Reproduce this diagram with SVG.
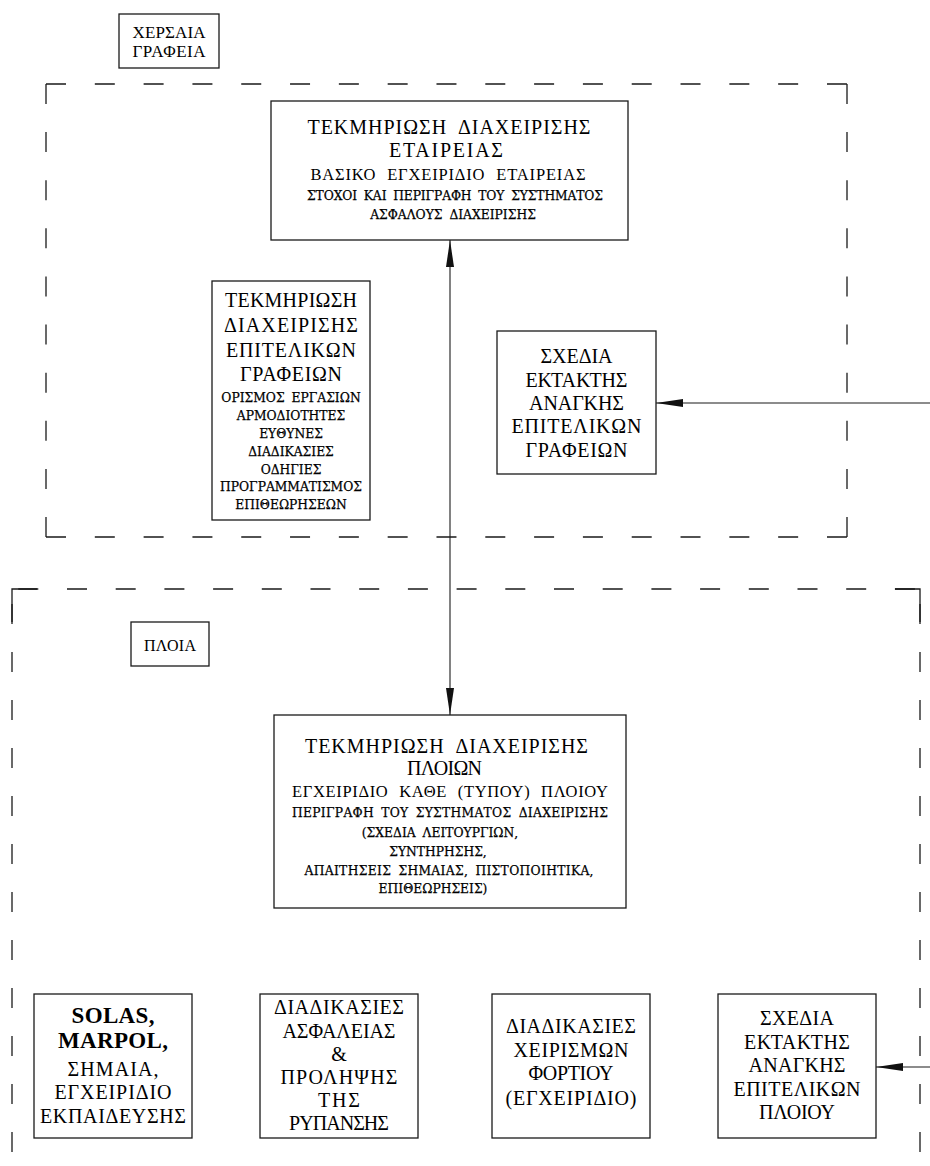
<svg xmlns="http://www.w3.org/2000/svg" width="930" height="1166" viewBox="0 0 930 1166">
  <style>
    .box { fill: #fff; stroke: #1a1a1a; stroke-width: 1.3; }
    .dash { fill: none; stroke: #1a1a1a; stroke-width: 1.3; }
    .conn { fill: none; stroke: #1a1a1a; stroke-width: 1.1; }
    .t { font-family: "Liberation Serif", "Times New Roman", serif; fill: #000; text-anchor: middle; }
    .lg { font-size: 20px; }
    .md { font-size: 16.5px; }
    .sm { font-family: "DejaVu Serif", "Liberation Serif", serif; font-size: 12.3px; stroke: #000; stroke-width: 0.25; }
    .lbl { font-size: 17px; }
    .b { font-weight: bold; font-size: 23px; }
    .ws { word-spacing: 6px; }
    .ws2 { word-spacing: 3px; }
    .st { text-anchor: start; }
  </style>
  <defs>
    <marker id="ah" markerUnits="userSpaceOnUse" markerWidth="27" markerHeight="8" viewBox="0 0 27 8" refX="27" refY="4" orient="auto-start-reverse">
      <path d="M0,0 L27,4 L0,8 Z" fill="#111"/>
    </marker>
  </defs>

  <rect width="930" height="1166" fill="#fff"/>

  <!-- shore offices boundary -->
  <g id="zone-shore">
    <line class="dash" x1="46" y1="84" x2="847" y2="84" stroke-dasharray="20 28.81"/>
    <line class="dash" x1="46" y1="537" x2="847" y2="537" stroke-dasharray="20 28.81"/>
    <line class="dash" x1="46" y1="84" x2="46" y2="537" stroke-dasharray="20 28.11"/>
    <line class="dash" x1="847" y1="84" x2="847" y2="537" stroke-dasharray="20 28.11"/>
  </g>

  <!-- ships boundary (open at the bottom) -->
  <g id="zone-ships">
    <path class="dash" d="M12,622 V589 H37"/>
    <path class="dash" d="M895,589 H920 V622"/>
    <line class="dash" x1="12" y1="589" x2="920" y2="589" stroke-dasharray="20 28.7" stroke-dashoffset="-6.3"/>
    <line class="dash" x1="12" y1="589" x2="12" y2="1166" stroke-dasharray="20 28" stroke-dashoffset="33"/>
    <line class="dash" x1="920" y1="589" x2="920" y2="1166" stroke-dasharray="20 28" stroke-dashoffset="33"/>
  </g>

  <g id="label-shore">
    <rect class="box" x="119" y="14" width="100" height="54"/>
    <text class="t lbl" x="169" y="38" textLength="73">ΧΕΡΣΑΙΑ</text>
    <text class="t lbl" x="169" y="57" textLength="73">ΓΡΑΦΕΙΑ</text>
  </g>

  <g id="label-ships">
    <rect class="box" x="131" y="622" width="78" height="44"/>
    <text class="t" style="font-size:16px" x="170" y="651" textLength="52">ΠΛΟΙΑ</text>
  </g>

  <g id="company-docs">
    <rect class="box" x="271" y="101" width="357" height="139"/>
    <text class="t lg ws" x="449" y="134" textLength="283">ΤΕΚΜΗΡΙΩΣΗ ΔΙΑΧΕΙΡΙΣΗΣ</text>
    <text class="t lg" x="446" y="157" textLength="114">ΕΤΑΙΡΕΙΑΣ</text>
    <text class="t md ws" x="448" y="180" textLength="275">ΒΑΣΙΚΟ ΕΓΧΕΙΡΙΔΙΟ ΕΤΑΙΡΕΙΑΣ</text>
    <text class="t sm ws2" x="455" y="200" textLength="296">ΣΤΟΧΟΙ ΚΑΙ ΠΕΡΙΓΡΑΦΗ ΤΟΥ ΣΥΣΤΗΜΑΤΟΣ</text>
    <text class="t sm ws2" x="453" y="219">ΑΣΦΑΛΟΥΣ ΔΙΑΧΕΙΡΙΣΗΣ</text>
  </g>

  <g id="staff-office-docs">
    <rect class="box" x="212" y="281" width="158" height="239"/>
    <text class="t lg" x="291" y="307" textLength="132">ΤΕΚΜΗΡΙΩΣΗ</text>
    <text class="t lg" x="291" y="332" textLength="134">ΔΙΑΧΕΙΡΙΣΗΣ</text>
    <text class="t lg" x="291" y="357" textLength="130">ΕΠΙΤΕΛΙΚΩΝ</text>
    <text class="t lg" x="291" y="381" textLength="102">ΓΡΑΦΕΙΩΝ</text>
    <text class="t sm ws2" x="291" y="402">ΟΡΙΣΜΟΣ ΕΡΓΑΣΙΩΝ</text>
    <text class="t sm" x="291" y="420">ΑΡΜΟΔΙΟΤΗΤΕΣ</text>
    <text class="t sm" x="291" y="438">ΕΥΘΥΝΕΣ</text>
    <text class="t sm" x="291" y="456">ΔΙΑΔΙΚΑΣΙΕΣ</text>
    <text class="t sm" x="291" y="474">ΟΔΗΓΙΕΣ</text>
    <text class="t sm" x="291" y="491">ΠΡΟΓΡΑΜΜΑΤΙΣΜΟΣ</text>
    <text class="t sm" x="291" y="509">ΕΠΙΘΕΩΡΗΣΕΩΝ</text>
  </g>

  <g id="office-emergency-plans">
    <rect class="box" x="497" y="331" width="159" height="143"/>
    <text class="t lg" x="576.5" y="363" textLength="72">ΣΧΕΔΙΑ</text>
    <text class="t lg" x="576.5" y="387" textLength="102">ΕΚΤΑΚΤΗΣ</text>
    <text class="t lg" x="576.5" y="410" textLength="95">ΑΝΑΓΚΗΣ</text>
    <text class="t lg" x="576.5" y="433" textLength="130">ΕΠΙΤΕΛΙΚΩΝ</text>
    <text class="t lg" x="576.5" y="457" textLength="102">ΓΡΑΦΕΙΩΝ</text>
  </g>

  <g id="ship-docs">
    <rect class="box" x="274" y="715" width="352" height="193"/>
    <text class="t lg ws st" x="305" y="753" textLength="283">ΤΕΚΜΗΡΙΩΣΗ ΔΙΑΧΕΙΡΙΣΗΣ</text>
    <text class="t lg st" x="407" y="775" textLength="75">ΠΛΟΙΩΝ</text>
    <text class="t md ws st" x="292" y="797" textLength="316">ΕΓΧΕΙΡΙΔΙΟ ΚΑΘΕ (ΤΥΠΟΥ) ΠΛΟΙΟΥ</text>
    <text class="t sm ws2" x="450" y="817" textLength="316">ΠΕΡΙΓΡΑΦΗ ΤΟΥ ΣΥΣΤΗΜΑΤΟΣ ΔΙΑΧΕΙΡΙΣΗΣ</text>
    <text class="t sm ws2" x="440" y="837">(ΣΧΕΔΙΑ ΛΕΙΤΟΥΡΓΙΩΝ,</text>
    <text class="t sm" x="438" y="856">ΣΥΝΤΗΡΗΣΗΣ,</text>
    <text class="t sm ws2" x="449" y="875" textLength="289">ΑΠΑΙΤΗΣΕΙΣ ΣΗΜΑΙΑΣ, ΠΙΣΤΟΠΟΙΗΤΙΚΑ,</text>
    <text class="t sm" x="433" y="893">ΕΠΙΘΕΩΡΗΣΕΙΣ)</text>
  </g>

  <g id="regulations">
    <rect class="box" x="34" y="994" width="158" height="144"/>
    <text class="t b" x="113" y="1023" textLength="83">SOLAS,</text>
    <text class="t b" x="113" y="1048" textLength="110">MARPOL,</text>
    <text class="t lg" x="113" y="1076" textLength="91">ΣΗΜΑΙΑ,</text>
    <text class="t lg" x="113" y="1099" textLength="117">ΕΓΧΕΙΡΙΔΙΟ</text>
    <text class="t lg" x="113" y="1123" textLength="146">ΕΚΠΑΙΔΕΥΣΗΣ</text>
  </g>

  <g id="safety-procedures">
    <rect class="box" x="260" y="994" width="158" height="144"/>
    <text class="t lg" x="339" y="1014" textLength="130">ΔΙΑΔΙΚΑΣΙΕΣ</text>
    <text class="t lg" x="339" y="1038" textLength="113">ΑΣΦΑΛΕΙΑΣ</text>
    <text class="t lg" x="339" y="1061">&amp;</text>
    <text class="t lg" x="339" y="1084" textLength="117">ΠΡΟΛΗΨΗΣ</text>
    <text class="t lg" x="339" y="1107" textLength="42">ΤΗΣ</text>
    <text class="t lg" x="339" y="1130" textLength="100">ΡΥΠΑΝΣΗΣ</text>
  </g>

  <g id="cargo-procedures">
    <rect class="box" x="492" y="994" width="158" height="144"/>
    <text class="t lg" x="571" y="1033" textLength="130">ΔΙΑΔΙΚΑΣΙΕΣ</text>
    <text class="t lg" x="571" y="1057" textLength="115">ΧΕΙΡΙΣΜΩΝ</text>
    <text class="t lg" x="571" y="1080" textLength="85">ΦΟΡΤΙΟΥ</text>
    <text class="t lg" x="571" y="1105" textLength="131">(ΕΓΧΕΙΡΙΔΙΟ)</text>
  </g>

  <g id="ship-emergency-plans">
    <rect class="box" x="718" y="994" width="158" height="144"/>
    <text class="t lg" x="797" y="1025" textLength="74">ΣΧΕΔΙΑ</text>
    <text class="t lg" x="797" y="1049" textLength="106">ΕΚΤΑΚΤΗΣ</text>
    <text class="t lg" x="797" y="1072" textLength="97">ΑΝΑΓΚΗΣ</text>
    <text class="t lg" x="797" y="1096" textLength="127">ΕΠΙΤΕΛΙΚΩΝ</text>
    <text class="t lg" x="797" y="1119" textLength="76">ΠΛΟΙΟΥ</text>
  </g>

  <g id="connectors">
    <line class="conn" x1="450" y1="240" x2="450" y2="715" marker-start="url(#ah)" marker-end="url(#ah)"/>
    <line class="conn" x1="930" y1="403" x2="656" y2="403" marker-end="url(#ah)"/>
    <line class="conn" x1="930" y1="1067" x2="876" y2="1067" marker-end="url(#ah)"/>
  </g>
</svg>
